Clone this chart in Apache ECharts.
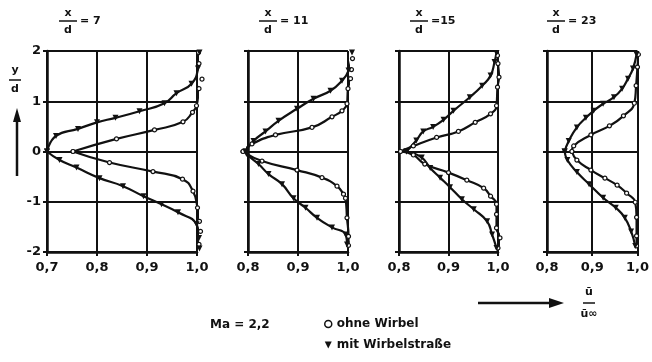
<!DOCTYPE html>
<html>
<head>
<meta charset="utf-8">
<script src="https://cdn.jsdelivr.net/npm/echarts@6/dist/echarts.min.js"></script>
<style>
  html, body { margin: 0; padding: 0; background: #fff; }
  #chart { width: 652px; height: 362px; }
</style>
</head>
<body>
<div id="chart"></div>
<script>
// Geschwindigkeitsprofile u/u∞ über y/d, je Abstand x/d
const xdValues = [7, 11, 15, 23];
const xMins = [0.7, 0.8, 0.8, 0.8];
const yTicks = [-2, -1, 0, 1, 2];

// [u/u∞, y/d], von unten nach oben
const ohne7 = [[1.004,-1.85],[1.007,-1.59],[1.005,-1.39],[1.001,-1.12],[0.992,-0.79],[0.971,-0.55],[0.912,-0.40],[0.825,-0.22],[0.752,0],[0.839,0.25],[0.915,0.43],[0.972,0.59],[0.991,0.78],[0.999,0.91],[1.004,1.25],[1.010,1.44],[1.004,1.75],[1.003,1.97]];
const mit7 = [[1.005,-1.93],[1.004,-1.72],[0.999,-1.45],[0.962,-1.21],[0.929,-1.05],[0.893,-0.89],[0.852,-0.69],[0.805,-0.53],[0.759,-0.32],[0.725,-0.17],[0.700,0],[0.718,0.31],[0.762,0.45],[0.800,0.58],[0.837,0.67],[0.885,0.80],[0.935,0.96],[0.959,1.16],[0.989,1.35],[1.002,1.65],[1.005,1.97]];

const ohne11 = [[1.001,-1.87],[1.001,-1.69],[0.998,-1.32],[0.995,-0.93],[0.991,-0.85],[0.978,-0.69],[0.948,-0.52],[0.898,-0.37],[0.828,-0.19],[0.790,0],[0.808,0.15],[0.855,0.33],[0.928,0.48],[0.968,0.69],[0.988,0.81],[0.998,0.95],[1.000,1.25],[1.005,1.45],[1.007,1.63],[1.009,1.85]];
const mit11 = [[0.998,-1.85],[0.995,-1.65],[0.968,-1.51],[0.938,-1.32],[0.915,-1.12],[0.891,-0.93],[0.868,-0.65],[0.841,-0.45],[0.821,-0.25],[0.797,-0.05],[0.795,0],[0.811,0.21],[0.835,0.40],[0.861,0.61],[0.898,0.85],[0.931,1.05],[0.965,1.21],[0.988,1.41],[1.001,1.61],[1.008,1.97]];

const ohne15 = [[1.000,-1.92],[1.004,-1.72],[0.997,-1.52],[0.997,-1.25],[0.997,-1.05],[0.985,-0.89],[0.971,-0.73],[0.937,-0.57],[0.900,-0.42],[0.852,-0.25],[0.829,-0.07],[0.803,0],[0.829,0.11],[0.876,0.28],[0.920,0.40],[0.954,0.58],[0.985,0.75],[0.997,0.91],[0.999,1.28],[1.002,1.48],[1.000,1.75],[0.999,1.91]];
const mit15 = [[0.997,-1.92],[0.988,-1.65],[0.978,-1.39],[0.951,-1.15],[0.927,-0.95],[0.903,-0.71],[0.883,-0.52],[0.863,-0.33],[0.846,-0.12],[0.815,0],[0.835,0.22],[0.849,0.40],[0.869,0.49],[0.890,0.63],[0.910,0.81],[0.943,1.08],[0.968,1.31],[0.985,1.51],[0.993,1.78],[0.997,1.96]];

const ohne23 = [[0.998,-1.88],[0.998,-1.68],[0.998,-1.31],[0.995,-1.01],[0.976,-0.83],[0.955,-0.67],[0.928,-0.53],[0.897,-0.37],[0.866,-0.17],[0.855,0],[0.859,0.11],[0.897,0.33],[0.938,0.51],[0.969,0.71],[0.993,0.96],[0.997,1.31],[1.000,1.68],[1.002,1.93]];
const mit23 = [[0.995,-1.88],[0.986,-1.59],[0.972,-1.32],[0.952,-1.12],[0.924,-0.92],[0.893,-0.65],[0.866,-0.41],[0.845,-0.17],[0.839,0],[0.848,0.21],[0.866,0.48],[0.886,0.67],[0.903,0.81],[0.924,0.95],[0.948,1.08],[0.966,1.25],[0.979,1.45],[0.990,1.65],[0.998,1.93]];

const ohneData = [ohne7, ohne11, ohne15, ohne23];
const mitData = [mit7, mit11, mit15, mit23];

const FONT = 'DejaVu Sans';
const INK = '#111';

// Gitter-Positionen der vier Teilbilder
const grids = [
  { left: 47, top: 51, width: 150, height: 201 },
  { left: 248, top: 51, width: 100, height: 201 },
  { left: 399, top: 51, width: 99, height: 201 },
  { left: 547, top: 51, width: 96, height: 201 }
];

// Kurve am Minimum in zwei Äste teilen (spitzer Scheitel)
function splitAtMin(points) {
  let k = 0;
  points.forEach((p, i) => { if (p[0] < points[k][0]) k = i; });
  return [points.slice(0, k + 1), points.slice(k)];
}

function fraction(cx, top, bottom, bar, yTop, yBar, yBottom, size) {
  const font = `bold ${size}px "${FONT}"`;
  return [
    { type: 'text', style: { text: top, x: cx, y: yTop, font, fill: INK, align: 'center', verticalAlign: 'middle' } },
    { type: 'line', shape: { x1: cx - bar, y1: yBar, x2: cx + bar, y2: yBar }, style: { stroke: INK, lineWidth: 1.5 } },
    { type: 'text', style: { text: bottom, x: cx, y: yBottom, font, fill: INK, align: 'center', verticalAlign: 'middle' } }
  ];
}

function label(text, x, y, size, align) {
  return { type: 'text', style: { text, x, y, font: `bold ${size}px "${FONT}"`, fill: INK, align: align || 'left', verticalAlign: 'middle' } };
}

const titleX = [68, 268, 419, 556];
const titleSuffix = ['= 7', '= 11', '=15', '= 23'];

let graphic = [];
titleX.forEach((cx, i) => {
  graphic = graphic.concat(fraction(cx, 'x', 'd', 9, 13, 21, 30, 11));
  graphic.push(label(titleSuffix[i], cx + 12, 21, 11));
});
// y/d mit Pfeil
graphic = graphic.concat(fraction(15, 'y', 'd', 6, 70, 80, 89, 11));
graphic.push({ type: 'line', shape: { x1: 17, y1: 176, x2: 17, y2: 118 }, style: { stroke: INK, lineWidth: 2.5 } });
graphic.push({ type: 'polygon', shape: { points: [[17, 108], [13, 122], [21, 122]] }, style: { fill: INK } });
// Pfeil nach rechts + u/u∞
graphic.push({ type: 'line', shape: { x1: 478, y1: 303, x2: 552, y2: 303 }, style: { stroke: INK, lineWidth: 2.5 } });
graphic.push({ type: 'polygon', shape: { points: [[564, 303], [549, 298], [549, 308]] }, style: { fill: INK } });
graphic = graphic.concat(fraction(589, 'ū', 'ū∞', 6, 292, 303, 314, 11));
graphic.push(label('Ma = 2,2', 210, 325, 12));

const xAxes = grids.map((g, i) => ({
  type: 'value',
  gridIndex: i,
  min: xMins[i],
  max: 1.0,
  interval: 0.1,
  axisLine: { show: true, onZero: false, lineStyle: { color: INK, width: 2.5 } },
  axisTick: { show: true, inside: false, length: 4, lineStyle: { color: INK, width: 2 } },
  axisLabel: {
    color: INK, fontFamily: FONT, fontWeight: 'bold', fontSize: 13, margin: 9,
    formatter: v => v.toFixed(1).replace('.', ',')
  },
  splitLine: { show: true, lineStyle: { color: INK, width: 2 } }
}));

const yAxes = grids.map((g, i) => ({
  type: 'value',
  gridIndex: i,
  min: yTicks[0],
  max: yTicks[yTicks.length - 1],
  interval: 1,
  axisLine: { show: true, onZero: false, lineStyle: { color: INK, width: 2.5 } },
  axisTick: { show: true, inside: false, length: 4, lineStyle: { color: INK, width: 2 } },
  axisLabel: {
    show: i === 0, color: INK, fontFamily: FONT, fontWeight: 'bold', fontSize: 13, margin: 6
  },
  splitLine: { show: true, lineStyle: { color: INK, width: 2 } }
}));

const series = [];
xdValues.forEach((xd, i) => {
  const common = {
    type: 'line',
    xAxisIndex: i,
    yAxisIndex: i,
    smooth: 0.5,
    clip: false,
    lineStyle: { color: INK, width: 2.2 }
  };
  splitAtMin(ohneData[i]).forEach(part => {
    series.push({
      ...common,
      name: 'ohne Wirbel',
      data: part,
      symbol: 'circle',
      symbolSize: 4,
      itemStyle: { color: '#fff', borderColor: INK, borderWidth: 1.2 }
    });
  });
  splitAtMin(mitData[i]).forEach(part => {
    series.push({
      ...common,
      name: 'mit Wirbelstraße',
      data: part,
      symbol: 'triangle',
      symbolRotate: 180,
      symbolSize: 6,
      itemStyle: { color: INK }
    });
  });
});

const chart = echarts.init(document.getElementById('chart'), null, { renderer: 'canvas' });
chart.setOption({
  animation: false,
  backgroundColor: '#fff',
  grid: grids,
  xAxis: xAxes,
  yAxis: yAxes,
  legend: {
    orient: 'vertical',
    left: 324,
    top: 318,
    padding: 0,
    itemGap: 9,
    itemWidth: 7,
    itemHeight: 7,
    selectedMode: false,
    textStyle: { color: INK, fontFamily: FONT, fontWeight: 'bold', fontSize: 12 },
    data: [
      { name: 'ohne Wirbel', icon: 'circle', itemStyle: { color: '#fff', borderColor: INK, borderWidth: 1.5 } },
      { name: 'mit Wirbelstraße', icon: 'path://M0,0L10,0L5,10Z', itemStyle: { color: INK } }
    ]
  },
  graphic: graphic,
  series: series
});
</script>
</body>
</html>
